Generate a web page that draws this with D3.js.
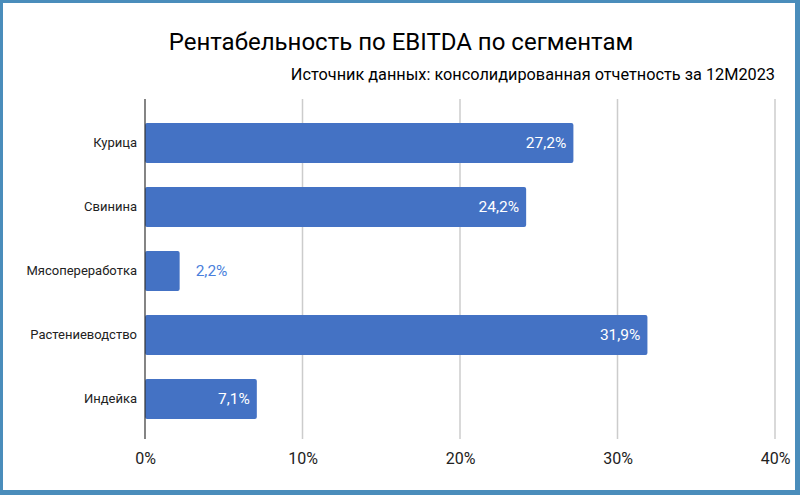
<!DOCTYPE html>
<html><head><meta charset="utf-8">
<script src="https://cdn.jsdelivr.net/npm/d3@7"></script>
<style>html,body{margin:0;padding:0;background:#fff;}svg{display:block;}</style>
</head><body>
<svg id="chart" width="800" height="495"></svg>
<script>
const categories = ["Курица","Свинина","Мясопереработка","Растениеводство","Индейка"];
const values = [27.2, 24.2, 2.2, 31.9, 7.1];
const valueLabels = ["27,2%","24,2%","2,2%","31,9%","7,1%"];
const tickValues = [0,10,20,30,40];
const tickLabels = ["0%","10%","20%","30%","40%"];
const title = "Рентабельность по EBITDA по сегментам";
const subtitle = "Источник данных: консолидированная отчетность за 12M2023";

(function(){
const svg = d3.select("#chart");
const font = "Roboto, 'Noto Sans', sans-serif";

// frame
svg.append("rect").attr("x",0).attr("y",0).attr("width",800).attr("height",495).attr("fill","#4a8dbb");
svg.append("rect").attr("x",3).attr("y",3).attr("width",792).attr("height",487).attr("fill","#fff");

svg.append("text").attr("x",401).attr("y",50).attr("text-anchor","middle")
  .attr("font-family",font).attr("font-size",24).attr("fill","#000").text(title);
svg.append("text").attr("x",775).attr("y",80).attr("text-anchor","end")
  .attr("font-family",font).attr("font-size",16.3).attr("fill","#000").text(subtitle);

const x = d3.scaleLinear().domain([0,40]).range([145,775]);
const y = d3.scaleBand().domain(categories).range([111,431]).paddingInner(0.375).paddingOuter(0.1875);
const plotTop = 99, plotBottom = 439;

// gridlines
svg.append("g").selectAll("line").data(tickValues.filter(d=>d>0)).join("line")
  .attr("x1",d=>x(d)).attr("x2",d=>x(d)).attr("y1",plotTop).attr("y2",plotBottom)
  .attr("stroke","#cccccc").attr("stroke-width",1.5);

// bars
svg.append("g").selectAll("rect").data(values).join("rect")
  .attr("x",x(0)).attr("y",(d,i)=>y(categories[i]))
  .attr("width",d=>x(d)-x(0)).attr("height",y.bandwidth())
  .attr("rx",2).attr("fill","#4472c4");

// value labels
svg.append("g").selectAll("text").data(values).join("text")
  .attr("x",d=> d < 5 ? x(d)+16 : x(d)-7)
  .attr("y",(d,i)=>y(categories[i])+y.bandwidth()/2)
  .attr("dy","0.35em")
  .attr("text-anchor",d=> d < 5 ? "start" : "end")
  .attr("font-family",font).attr("font-size",15.5)
  .attr("fill",d=> d < 5 ? "#4a7fdc" : "#ffffff")
  .text((d,i)=>valueLabels[i]);

// zero axis line
svg.append("line").attr("x1",x(0)).attr("x2",x(0)).attr("y1",plotTop).attr("y2",plotBottom)
  .attr("stroke","#333").attr("stroke-width",1.2);

// category axis labels
const yAxis = d3.axisLeft(y).tickSize(0).tickPadding(8);
const gy = svg.append("g").attr("transform",`translate(${x(0)},0)`).call(yAxis);
gy.select(".domain").remove();
gy.selectAll("text").attr("font-family",font).attr("font-size",13).attr("fill","#222");

// x axis
const xAxis = d3.axisBottom(x).tickValues(tickValues).tickFormat((d,i)=>tickLabels[i]).tickSize(0).tickPadding(14);
const gx = svg.append("g").attr("transform",`translate(0,${plotBottom})`).call(xAxis);
gx.select(".domain").remove();
gx.selectAll("text").attr("font-family",font).attr("font-size",16).attr("fill","#222");
})();
</script>
</body></html>
